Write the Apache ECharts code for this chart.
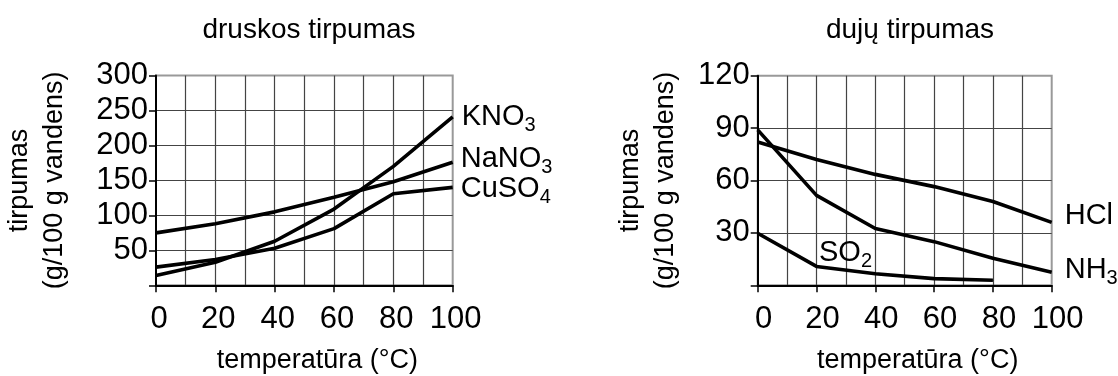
<!DOCTYPE html>
<html>
<head>
<meta charset="utf-8">
<script src="https://cdn.jsdelivr.net/npm/echarts@6/dist/echarts.min.js"></script>
<style>
html,body{margin:0;padding:0;background:#fff;}
#c{width:1118px;height:376px;}
</style>
</head>
<body>
<div id="c"></div>
<script>
// ---- data ----
const temps = [0, 20, 40, 60, 80, 100];
const kno3  = [14, 33, 63, 109, 170, 241];
const nano3 = [75, 88, 105, 126, 148, 176];
const cuso4 = [26, 37, 53, 81, 131, 140];

const gasTemps = [0, 20, 40, 60, 80, 100];
const hcl = [82, 72, 63.5, 56.5, 48, 36];
const nh3 = [89, 51.5, 32.5, 25, 15.5, 7.5];
const so2Temps = [0, 20, 40, 60, 80];
const so2 = [29.8, 10.8, 6.6, 3.8, 2.9];

const titles = ['druskos tirpumas', 'dujų tirpumas'];
const xName = 'temperatūra (°C)';
const yName = 'tirpumas\n(g/100 g vandens)';

const FONT = "'Liberation Sans', Arial, sans-serif";
const chart = echarts.init(document.getElementById('c'), null, {renderer: 'canvas'});

function pairs(xs, ys) { return xs.map((x, i) => [x, ys[i]]); }

const rich = {
  a: {fontSize: 29, fontFamily: FONT, color: '#000', lineHeight: 36},
  s: {fontSize: 20, fontFamily: FONT, color: '#000', lineHeight: 20, padding: [17, 0, 0, 0]}
};

function xAxis(gi, lblPad) {
  return {
    type: 'value', gridIndex: gi, min: 0, max: 100, interval: 20,
    axisLine: {show: true, onZero: false, lineStyle: {color: '#000', width: 2}},
    axisTick: {show: true, length: 7, lineStyle: {color: '#000', width: 1.5}},
    axisLabel: {fontSize: 31, color: '#000', fontFamily: FONT, margin: 19, padding: lblPad},
    splitLine: {show: true, showMaxLine: false, showMinLine: false, lineStyle: {color: '#444', width: 1.2}},
    minorTick: {show: false, splitNumber: 2},
    minorSplitLine: {show: true, lineStyle: {color: '#444', width: 1.2}},
    name: xName, nameLocation: 'middle', nameGap: 62,
    nameTextStyle: {fontSize: 27, color: '#000', fontFamily: FONT, padding: [0, 0, 0, 26]}
  };
}
function yAxis(gi, max, interval, gap) {
  return {
    type: 'value', gridIndex: gi, min: 0, max: max, interval: interval,
    axisLine: {show: true, onZero: false, lineStyle: {color: '#000', width: 2}},
    axisTick: {show: true, length: 7, lineStyle: {color: '#000', width: 1.5}},
    axisLabel: {fontSize: 31, color: '#000', fontFamily: FONT, margin: 8,
      formatter: v => (v === 0 ? '' : String(v))},
    splitLine: {show: true, showMaxLine: false, showMinLine: false, lineStyle: {color: '#444', width: 1.2}},
    name: yName, nameLocation: 'middle', nameRotate: 90, nameGap: gap,
    nameTextStyle: {fontSize: 27, color: '#000', fontFamily: FONT, lineHeight: 35}
  };
}
function line(xi, data, lbl, dist, off) {
  return {
    type: 'line', xAxisIndex: xi, yAxisIndex: xi, data: data,
    symbol: 'none', lineStyle: {color: '#000', width: 3.6}, itemStyle: {color: '#000'},
    silent: true,
    endLabel: lbl ? {show: true, formatter: lbl, distance: dist, offset: off, rich: rich} : {show: false}
  };
}

const so2Data = pairs(so2Temps, so2).map((p, i) => i === 1
  ? {value: p, label: {show: true, position: 'right', distance: 2, offset: [0, -13],
      formatter: '{a|SO}{s|2}', rich: rich}}
  : p);

chart.setOption({
  animation: false,
  backgroundColor: '#fff',
  title: [
    {text: titles[0], left: 304, top: 11, textAlign: 'center',
      textStyle: {fontSize: 28, fontWeight: 'normal', color: '#000', fontFamily: FONT}},
    {text: titles[1], left: 905, top: 11, textAlign: 'center',
      textStyle: {fontSize: 28, fontWeight: 'normal', color: '#000', fontFamily: FONT}}
  ],
  grid: [
    {left: 156, top: 75.5, width: 296.7, height: 209.8, show: true, borderColor: '#999', borderWidth: 2,
      backgroundColor: 'transparent', containLabel: false, outerBoundsMode: 'none'},
    {left: 757.7, top: 75.7, width: 294, height: 209.6, show: true, borderColor: '#999', borderWidth: 2,
      backgroundColor: 'transparent', containLabel: false, outerBoundsMode: 'none'}
  ],
  xAxis: [xAxis(0, [0, 0, 0, 6]), xAxis(1, [0, 0, 0, 12])],
  yAxis: [yAxis(0, 300, 50, 84), yAxis(1, 120, 30, 75)],
  series: [
    line(0, pairs(temps, kno3), '{a|KNO}{s|3}', 9, [0, 0]),
    line(0, pairs(temps, nano3), '{a|NaNO}{s|3}', 8, [0, -3]),
    line(0, pairs(temps, cuso4), '{a|CuSO}{s|4}', 8, [0, 2]),
    line(1, pairs(gasTemps, hcl), '{a|HCl}', 13, [0, -6]),
    line(1, pairs(gasTemps, nh3), '{a|NH}{s|3}', 13, [0, -2]),
    Object.assign(line(1, so2Data, null), {symbol: 'circle', symbolSize: 1, showSymbol: true})
  ]
});
</script>
</body>
</html>
